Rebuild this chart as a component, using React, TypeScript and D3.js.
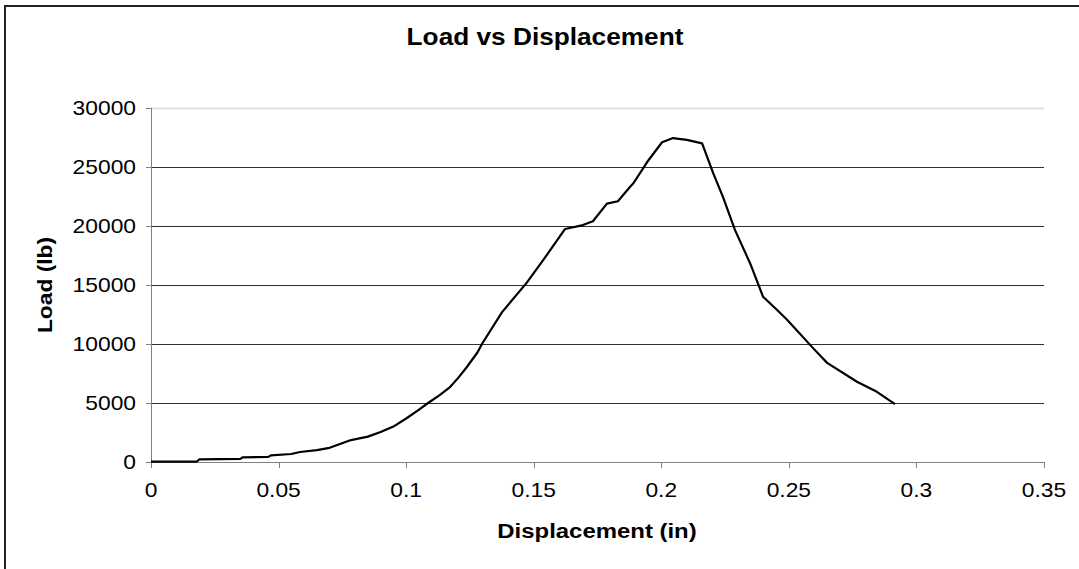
import React from "react";
import * as d3 from "d3";

const displacement = [
  0, 0.018, 0.019, 0.035, 0.036, 0.046, 0.047, 0.055, 0.0584, 0.065, 0.07, 0.0784,
  0.085, 0.09, 0.095, 0.1003, 0.1045, 0.1086, 0.113, 0.1172, 0.1205, 0.1238, 0.128,
  0.1297, 0.1376, 0.1473, 0.1537, 0.1623, 0.1693, 0.1732, 0.1787, 0.183, 0.1877,
  0.189, 0.1944, 0.2003, 0.2046, 0.21, 0.216, 0.2203, 0.2242, 0.2289, 0.2348,
  0.2399, 0.2453, 0.2493, 0.2595, 0.265, 0.2767, 0.2845, 0.2916,
];
const load = [
  30, 40, 230, 260, 400, 430, 560, 680, 850, 1000, 1200, 1860,
  2150, 2550, 3000, 3730, 4350, 5000, 5650, 6350, 7150, 8050, 9300,
  10000, 12700, 15200, 17100, 19750, 20080, 20400, 21900, 22100, 23300,
  23600, 25400, 27100, 27450, 27300, 27000, 24500, 22450, 19650, 16850,
  14000, 12900, 12050, 9650, 8400, 6800, 5950, 4900,
];
const xTicks = [0, 0.05, 0.1, 0.15, 0.2, 0.25, 0.3, 0.35];
const yTicks = [0, 5000, 10000, 15000, 20000, 25000, 30000];

const W = 1079;
const H = 569;
const left = 151;
const right = 1044;
const top = 108;
const bottom = 462;
const SX = 1.14;

function T(props: {
  x: number;
  y: number;
  size: number;
  anchor: string;
  bold?: boolean;
  rotate?: number;
  children: React.ReactNode;
}) {
  const { x, y, size, anchor, bold, rotate, children } = props;
  const tr = rotate
    ? `translate(${x},${y}) rotate(${rotate}) scale(${SX},1)`
    : `translate(${x},${y}) scale(${SX},1)`;
  return (
    <text
      transform={tr}
      textAnchor={anchor}
      fontSize={size}
      fontWeight={bold ? "bold" : "normal"}
    >
      {children}
    </text>
  );
}

export default function App() {
  const x = d3.scaleLinear().domain([0, 0.35]).range([left, right]);
  const y = d3.scaleLinear().domain([0, 30000]).range([bottom, top]);
  const pts: [number, number][] = displacement.map((d, i) => [d, load[i]]);
  const line = d3
    .line<[number, number]>()
    .x((d) => x(d[0]))
    .y((d) => y(d[1]))
    .curve(d3.curveLinear);
  const font = "'Liberation Sans', Arial, sans-serif";
  return (
    <svg
      width={W}
      height={H}
      style={{ position: "absolute", left: 0, top: 0, background: "#fff" }}
      fontFamily={font}
    >
      <rect x={5} y={6} width={W + 20} height={H + 20} fill="#fff" stroke="#222" strokeWidth={2} />
      <T x={545} y={45} size={23} anchor="middle" bold>
        Load vs Displacement
      </T>
      {yTicks.map((t) => (
        <line
          key={"g" + t}
          x1={left}
          x2={right}
          y1={Math.round(y(t)) + 0.5}
          y2={Math.round(y(t)) + 0.5}
          stroke={t === 30000 ? "#e0e0e0" : t === 0 ? "#808080" : "#303030"}
          strokeWidth={t === 30000 ? 2 : 1}
        />
      ))}
      <line x1={left + 0.5} x2={left + 0.5} y1={top} y2={bottom + 5} stroke="#808080" strokeWidth={1} />
      {yTicks.map((t) => (
        <g key={"yt" + t}>
          <line
            x1={left - 5}
            x2={left}
            y1={Math.round(y(t)) + 0.5}
            y2={Math.round(y(t)) + 0.5}
            stroke="#808080"
          />
          <T x={136} y={y(t) + 7} size={20} anchor="end">
            {t}
          </T>
        </g>
      ))}
      {xTicks.map((t) => (
        <g key={"xt" + t}>
          <line
            x1={Math.round(x(t)) + 0.5}
            x2={Math.round(x(t)) + 0.5}
            y1={bottom}
            y2={bottom + 6}
            stroke="#808080"
          />
          <T x={x(t)} y={497} size={20} anchor="middle">
            {String(t)}
          </T>
        </g>
      ))}
      <T x={597} y={538} size={21} anchor="middle" bold>
        Displacement (in)
      </T>
      <text
        transform={`translate(52,285) rotate(-90) scale(${SX},1)`}
        textAnchor="middle"
        fontSize={20}
        fontWeight="bold"
      >
        Load (lb)
      </text>
      <path d={line(pts) || ""} fill="none" stroke="#000" strokeWidth={2.2} strokeLinejoin="round" />
    </svg>
  );
}
